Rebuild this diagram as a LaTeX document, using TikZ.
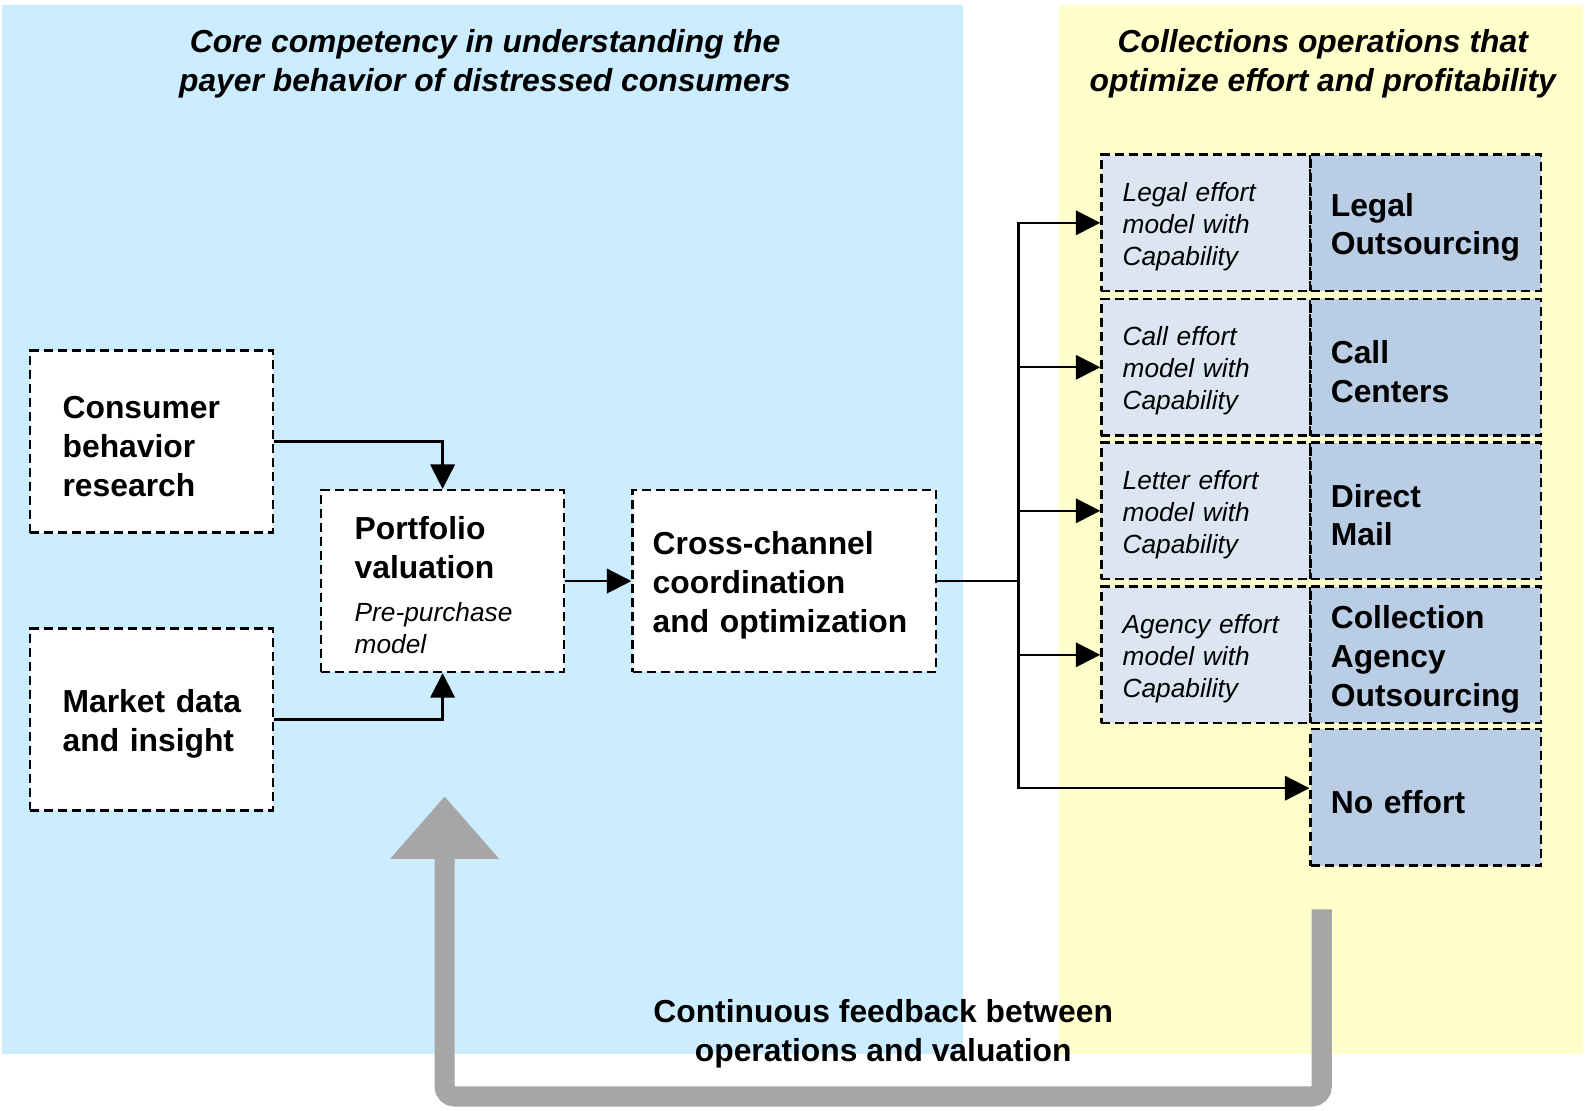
\documentclass[tikz,border=0pt]{standalone}
\usepackage{fontspec}
\setmainfont{Liberation Sans}
\usetikzlibrary{arrows.meta}
\definecolor{bgblue}{HTML}{CCECFF}
\definecolor{bgyellow}{HTML}{FFFFCC}
\definecolor{cellA}{HTML}{DCE6F2}
\definecolor{cellB}{HTML}{B9CDE5}
\definecolor{fbgray}{HTML}{A6A6A6}
\begin{document}
\begin{tikzpicture}[x=0.02021cm,y=-0.02021cm,
  dbox/.style={draw, line width=1.35pt, dash pattern=on 0.18cm off 0.1cm, align=left, inner xsep=0pt, inner ysep=0pt, execute at begin node={\rule{0pt}{1em}}},
  big/.style={font=\fontsize{18.1}{22.0}\selectfont\bfseries},
  small/.style={font=\fontsize{14.95}{18.3}\selectfont\itshape},
  title/.style={font=\fontsize{18.1}{22.0}\selectfont\bfseries\itshape, align=center},
  leftbox/.style={dbox, big, fill=white, minimum width=4.85cm, minimum height=3.638cm},
  cella/.style={dbox, small, fill=cellA, minimum width=4.183cm, minimum height=2.728cm, text width=3.335cm},
  cellb/.style={dbox, big, fill=cellB, minimum width=4.608cm, minimum height=2.728cm, text width=3.80cm},
  conn/.style={line width=1.3pt, -{Triangle[length=0.49cm,width=0.49cm]}},
  fb/.style={fbgray, line width=0.404cm, rounded corners=0.2cm, -{Triangle[length=1.253cm,width=2.10cm]}}
]
\useasboundingbox (0,0) rectangle (1568.5,1098.5);
\fill[bgblue] (2,5) rectangle (953,1043);
\fill[bgyellow] (1048,5) rectangle (1567,1043);

\node[title] (t1) at (480,63) {Core competency in understanding the\\payer behavior of distressed consumers};
\node[title] (t2) at (1309,63) {Collections operations that\\optimize effort and profitability};

\node[leftbox, text width=3.557cm] (cons) at (150,437) {Consumer\\behavior\\research};
\node[leftbox, text width=3.557cm] (mkt) at (150,712) {Market~data\\and~insight};
\node[leftbox, text width=3.517cm] (port) at (438,575) {Portfolio\\valuation\par\vspace{0.22cm}{\fontsize{14.95}{18.3}\selectfont\mdseries\itshape Pre-purchase\\model\par}};
\node[leftbox, minimum width=6.063cm, text width=5.255cm] (cross) at (776,575) {Cross-channel\\coordination\\and~optimization};

\node[cella] (a1) at (1193.5,220.5) {Legal effort\\model with\\Capability};
\node[cellb] (b1) at (1411,220.5) {Legal\\Outsourcing};
\node[cella] (a2) at (1193.5,363.5) {Call effort\\model with\\Capability};
\node[cellb] (b2) at (1411,363.5) {Call\\Centers};
\node[cella] (a3) at (1193.5,505.5) {Letter effort\\model with\\Capability};
\node[cellb] (b3) at (1411,505.5) {Direct\\Mail};
\node[cella] (a4) at (1193.5,648) {Agency~effort\\model with\\Capability};
\node[cellb] (b4) at (1411,648) {Collection\\Agency\\Outsourcing};
\node[cellb] (ne) at (1411,789) {No effort};

\draw[conn] (cons.east) -| (port.north);
\draw[conn] (mkt.east) -| (port.south);
\draw[conn] (port.east) -- (cross.west);
\coordinate (j) at (1008,575);
\draw[line width=1.3pt] (cross.east) -- (j);
\draw[conn] (j) |- (a1.west);
\draw[conn] (j) |- (a2.west);
\draw[conn] (j) |- (a3.west);
\draw[conn] (j) |- (a4.west);
\draw[conn] (j) |- ([yshift=0.182cm]ne.west);

\coordinate (fbstart) at (1308,900);
\coordinate (fbend) at (440,788);
\draw[fb] (fbstart) -- (1308,1085) -- (440,1085) -- (fbend);
\node[big, align=center] (fbl) at (874,1023) {Continuous feedback between\\operations and valuation};
\end{tikzpicture}
\end{document}
